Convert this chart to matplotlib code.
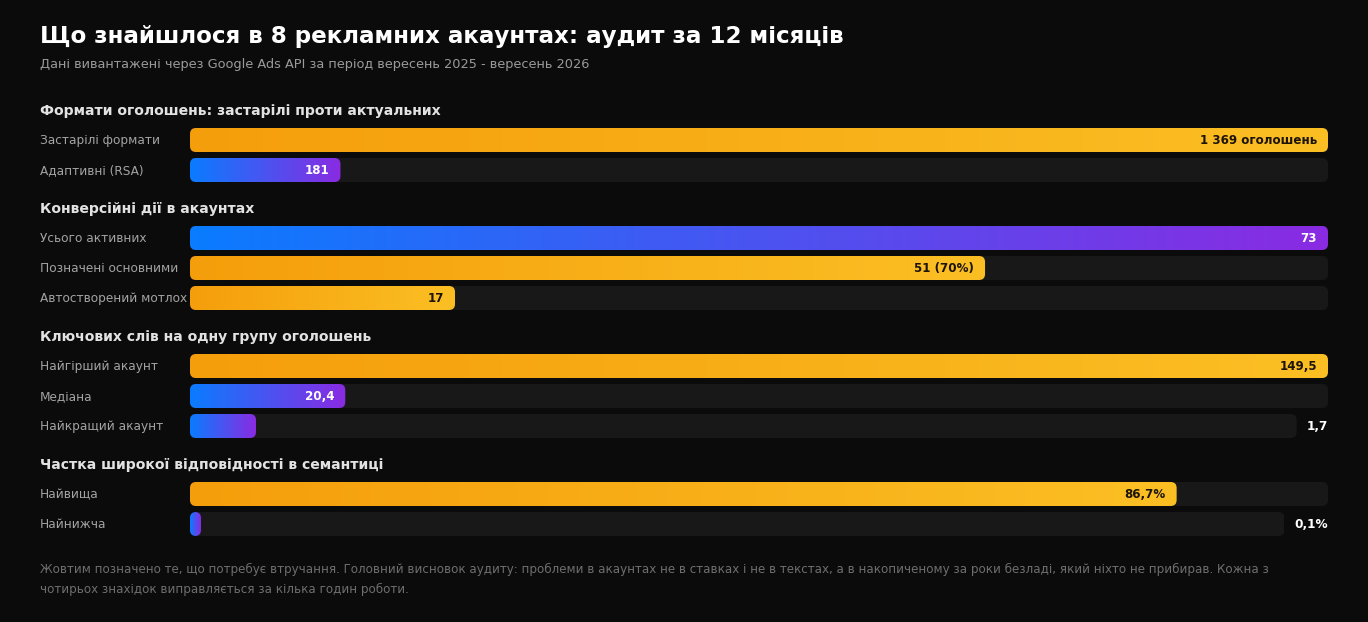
import matplotlib
matplotlib.use("Agg")
from matplotlib import pyplot as plt
from matplotlib.colors import LinearSegmentedColormap
from matplotlib.patches import FancyBboxPatch
import numpy as np

W, H = 1368, 622

title = "Що знайшлося в 8 рекламних акаунтах: аудит за 12 місяців"
subtitle = "Дані вивантажені через Google Ads API за період вересень 2025 - вересень 2026"
footer = ("Жовтим позначено те, що потребує втручання. Головний висновок аудиту: проблеми в акаунтах "
          "не в ставках і не в текстах, а в накопиченому за роки безладі, який ніхто не прибирав. Кожна з\n"
          "чотирьох знахідок виправляється за кілька годин роботи.")

section_titles = [
    "Формати оголошень: застарілі проти актуальних",
    "Конверсійні дії в акаунтах",
    "Ключових слів на одну групу оголошень",
    "Частка широкої відповідності в семантиці",
]
row_labels = [
    ["Застарілі формати", "Адаптивні (RSA)"],
    ["Усього активних", "Позначені основними", "Автостворений мотлох"],
    ["Найгірший акаунт", "Медіана", "Найкращий акаунт"],
    ["Найвища", "Найнижча"],
]
row_values = [
    [1369, 181],
    [73, 51, 17],
    [149.5, 20.4, 1.7],
    [86.7, 0.1],
]
value_texts = [
    ["1 369 оголошень", "181"],
    ["73", "51 (70%)", "17"],
    ["149,5", "20,4", "1,7"],
    ["86,7%", "0,1%"],
]
scale_max = [1369, 73, 149.5, 100]
# "warn" = needs attention (yellow), "ok" = blue
row_kind = [
    ["warn", "ok"],
    ["ok", "warn", "warn"],
    ["warn", "ok", "ok"],
    ["warn", "ok"],
]

BG = "#0b0b0b"
TRACK = "#181818"
grads = {
    "warn": LinearSegmentedColormap.from_list("warn", ["#f59e0b", "#fbbf24"]),
    "ok": LinearSegmentedColormap.from_list("ok", ["#0a7cff", "#8a2be2"]),
}
text_on = {"warn": "#1c1408", "ok": "#ffffff"}

# layout in pixels
X_LABEL = 40
X0, X1 = 190, 1328
BAR_H = 24
RADIUS = 6
MIN_BAR_PX = {(2, 2): 66}


def px_box(x, yc, w, h):
    return [x / W, 1 - (yc + h / 2) / H, w / W, h / H]


def rounded(ax, x, width, xmax, track_px, color=None):
    # rounding radius given in x data units, corrected for aspect
    rx = RADIUS * xmax / track_px
    aspect = (RADIUS / BAR_H) / rx
    p = FancyBboxPatch((x, 0), width, 1,
                       boxstyle=f"round,pad=0,rounding_size={rx}",
                       mutation_aspect=aspect, linewidth=0,
                       facecolor=color if color else "none")
    ax.add_patch(p)
    return p


def main():
    fig = plt.figure(figsize=(W / 100, H / 100), dpi=100, facecolor=BG)
    renderer = fig.canvas.get_renderer()

    fig.text(X_LABEL / W, 1 - 37 / H, title, color="#ffffff", fontsize=16.6,
             fontweight="bold", va="center", ha="left")
    fig.text(X_LABEL / W, 1 - 64.5 / H, subtitle, color="#9a9a9a", fontsize=9.3,
             va="center", ha="left")

    y = 111
    for s, sec in enumerate(section_titles):
        fig.text(X_LABEL / W, 1 - y / H, sec, color="#e2e2e2", fontsize=10.1,
                 fontweight="bold", va="center", ha="left")
        yc = y + 29
        for r, label in enumerate(row_labels[s]):
            value = row_values[s][r]
            kind = row_kind[s][r]
            vmax = scale_max[s]
            frac = value / vmax
            outside = frac < 0.03

            fig.text(X_LABEL / W, 1 - (yc + 0.5) / H, label, color="#a3a3a3",
                     fontsize=8.7, va="center", ha="left")

            track_right = X1
            if outside:
                t = fig.text(X1 / W, 1 - (yc + 0.5) / H, value_texts[s][r],
                             color="#ffffff", fontsize=8.7, fontweight="bold",
                             va="center", ha="right")
                bb = t.get_window_extent(renderer)
                track_right = bb.x0 - 10
            track_px = track_right - X0
            ax_vmax = vmax * track_px / (X1 - X0)

            ax = fig.add_axes(px_box(X0, yc, track_px, BAR_H))
            ax.set_axis_off()
            ax.set_xlim(0, ax_vmax)
            ax.set_ylim(0, 1)

            rounded(ax, 0, ax_vmax, ax_vmax, track_px, TRACK)

            bar_w = value
            min_px = MIN_BAR_PX.get((s, r), 11)
            bar_w = max(bar_w, min_px * ax_vmax / track_px)
            clip = rounded(ax, 0, bar_w, ax_vmax, track_px)
            img = ax.imshow(np.linspace(0, 1, 256)[None, :], cmap=grads[kind],
                            extent=(0, bar_w, 0, 1), aspect="auto",
                            interpolation="bilinear", zorder=2)
            img.set_clip_path(clip)
            ax.set_xlim(0, ax_vmax)
            ax.set_ylim(0, 1)

            if not outside:
                ax.annotate(value_texts[s][r], xy=(bar_w, 0.48),
                            xytext=(-11 * 0.72, 0), textcoords="offset points",
                            ha="right", va="center", fontsize=8.6,
                            fontweight="bold", color=text_on[kind], zorder=3)
            yc += 30
        y = yc - 30 + 39

    fig.text(X_LABEL / W, 1 - 563 / H, footer, color="#6e6e6e", fontsize=8.6,
             va="top", ha="left", linespacing=1.65)

    fig.savefig("out.png", dpi=100, facecolor=BG)


if __name__ == '__main__':
    main()
